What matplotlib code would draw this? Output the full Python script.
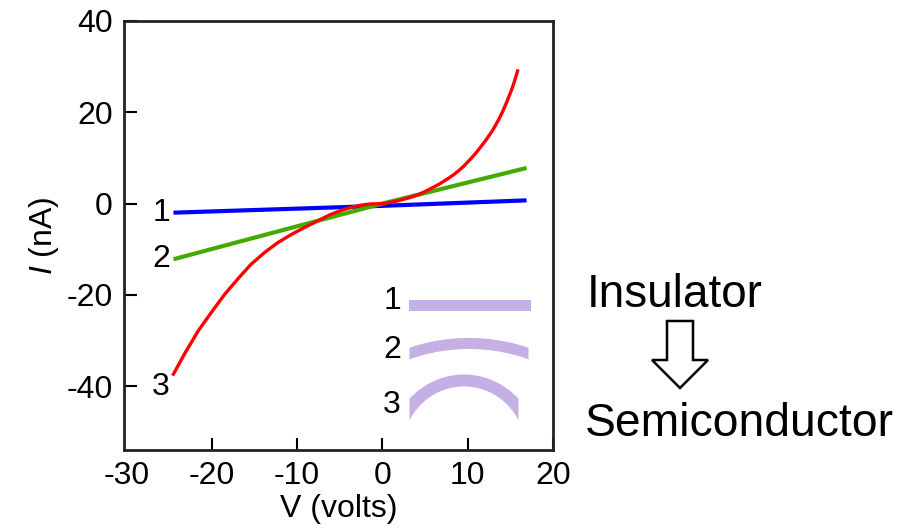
import numpy as np
import matplotlib.pyplot as plt
from matplotlib.patches import Polygon

plt.rcParams['font.family'] = ['Liberation Sans', 'DejaVu Sans']
plt.rcParams['mathtext.fontset'] = 'custom'
plt.rcParams['mathtext.it'] = 'Liberation Sans:italic'
plt.rcParams['mathtext.rm'] = 'Liberation Sans'
plt.rcParams['axes.unicode_minus'] = False

# Curvas I-V (V em volts, I em nA)
v1 = [-24.5, 0.0, 16.9]
i1 = [-2.0, -0.5, 0.7]

v2 = [-24.5, 0.0, 16.9]
i2 = [-12.2, 0.0, 7.8]

v3 = [-24.6, -23.1, -21.6, -20.0, -18.5, -16.9, -15.4, -13.8, -12.3, -10.7,
      -9.2, -7.6, -6.1, -4.5, -3.0, -1.5, 0.1, 1.6, 3.2, 4.4, 5.5, 6.7,
      7.8, 8.4, 9.0, 9.6, 10.1, 10.6, 11.1, 11.6, 12.1, 12.5, 12.9, 13.3,
      13.6, 13.9, 14.2, 14.5, 14.8, 15.1, 15.4, 15.65, 15.9]
i3 = [-37.7, -32.6, -27.9, -23.7, -19.9, -16.4, -13.3, -10.7, -8.6, -6.8,
      -5.3, -3.8, -2.4, -1.3, -0.5, -0.1, 0.0, 0.5, 1.3, 2.1, 3.1, 4.3,
      5.6, 6.4, 7.3, 8.3, 9.3, 10.3, 11.4, 12.6, 13.8, 14.9, 16.0, 17.3,
      18.3, 19.4, 20.6, 21.9, 23.3, 24.7, 26.3, 27.8, 29.4]

curve_labels = ['1', '2', '3']
curve_colors = ['#0000ff', '#44aa00', '#ff0000']
curve_widths = [3.0, 3.0, 2.4]
label_dy = [0, 0, -8]   # deslocamento vertical dos rótulos (pt)

xticks = [-30, -20, -10, 0, 10, 20]
yticks = [-40, -20, 0, 20, 40]

# Ícones das bandas (pixels da figura)
band_x0 = [409, 409, 409]
band_x1 = [531, 528, 518]
band_y = [305, 353, 409]
band_rise = [0, 10, 29]
band_thick = [11, 11, 12]
band_label_y = [301, 350, 405]

W, H = 907, 528
fig = plt.figure(figsize=(W / 100, H / 100), dpi=100)
ax = fig.add_axes([124 / W, 1 - 450 / H, (553 - 124) / W, (450 - 21) / H])

for v, i, c, lw in zip([v1, v2, v3], [i1, i2, i3], curve_colors, curve_widths):
    ax.plot(v, i, color=c, lw=lw, solid_capstyle='butt')

for v, i, lab, dy in zip([v1, v2, v3], [i1, i2, i3], curve_labels, label_dy):
    ax.annotate(lab, (v[0], i[0]), xytext=(-2, dy), textcoords='offset points',
                ha='right', va='center', fontsize=23)

ax.set_xlim(-30.3, 20)
ax.set_ylim(-54, 40)
ax.set_xticks(xticks)
ax.set_yticks(yticks)
ax.tick_params(direction='in', length=9, width=1.5, labelsize=23, pad=8,
               top=False, right=False)
ax.xaxis.get_major_ticks()[0].tick1line.set_visible(False)
for s in ax.spines.values():
    s.set_linewidth(2.0)
    s.set_color('#222222')
ax.set_xlabel('V (volts)', fontsize=23, labelpad=2)
ax.set_ylabel(r'$\mathit{I}$ (nA)', fontsize=23, labelpad=4)

# Camada em pixels para os ícones, textos e a seta
ov = fig.add_axes([0, 0, 1, 1], facecolor='none')
ov.set_xlim(0, W)
ov.set_ylim(H, 0)
ov.axis('off')

for k in range(3):
    x0, x1 = band_x0[k], band_x1[k]
    xs = np.linspace(x0, x1, 200)
    if band_rise[k] == 0:
        yc = np.full_like(xs, band_y[k], dtype=float)
        dy = np.zeros_like(xs)
    else:
        c = (x1 - x0) / 2
        h = band_rise[k]
        R = (c ** 2 + h ** 2) / (2 * h)
        xm = (x0 + x1) / 2
        u = xs - xm
        yc = band_y[k] - (np.sqrt(R ** 2 - u ** 2) - (R - h))
        dy = u / np.sqrt(R ** 2 - u ** 2)
    half = band_thick[k] / 2 * np.sqrt(1 + dy ** 2)
    ov.fill_between(xs, yc - half, yc + half, color='#c5b0e6', lw=0)
    ov.text(x0 - 8, band_label_y[k], curve_labels[k],
            ha='right', va='center', fontsize=23)

ov.text(587, 307, 'Insulator', fontsize=33, va='baseline', ha='left')
ov.text(585, 436, 'Semiconductor', fontsize=33.3, va='baseline', ha='left')

# Seta vazada para baixo
cx, top, neck, tip = 680, 321, 360, 388
sw, hw = 13, 28
arrow = Polygon([(cx - sw, top), (cx + sw, top), (cx + sw, neck), (cx + hw, neck),
                 (cx, tip), (cx - hw, neck), (cx - sw, neck)],
                closed=True, facecolor='white', edgecolor='black', lw=1.8)
ov.add_patch(arrow)

fig.savefig('out.png', dpi=100)
